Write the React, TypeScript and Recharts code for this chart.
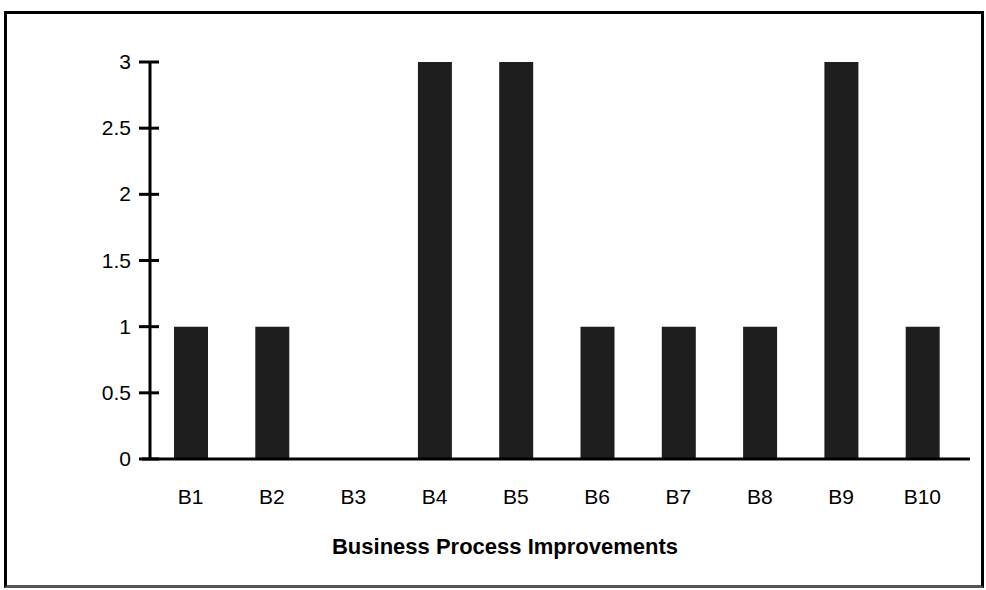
import { BarChart, Bar, XAxis, YAxis, ReferenceLine } from 'recharts'

const categories = ['B1', 'B2', 'B3', 'B4', 'B5', 'B6', 'B7', 'B8', 'B9', 'B10']
const counts = [1, 1, 0, 3, 3, 1, 1, 1, 3, 1]
const yTicks = [0, 0.5, 1, 1.5, 2, 2.5, 3]

const data = categories.map((name, i) => ({ name, value: counts[i] }))

const font = '"Liberation Sans", Arial, sans-serif'

function YTick({ y, payload }: any) {
  return (
    <g>
      <line x1={139} x2={159} y1={y} y2={y} stroke="#000" strokeWidth={3} />
      <text x={131} y={y} dy={7} textAnchor="end" fontSize={21} fontFamily={font} fill="#000">
        {payload.value}
      </text>
    </g>
  )
}

function Title() {
  return (
    <text x={505} y={554} textAnchor="middle" fontSize={22} fontWeight="bold" fontFamily={font} fill="#000">
      Business Process Improvements
    </text>
  )
}

export default function App() {
  return (
    <div style={{ position: 'fixed', left: 0, top: 0, width: 986, height: 590, background: '#fff' }}>
      <div
        style={{
          position: 'absolute',
          left: 4,
          top: 11,
          width: 974,
          height: 571,
          border: '3px solid #000',
          borderBottomColor: '#555',
        }}
      />
      <div style={{ position: 'absolute', left: 0, top: 0 }}>
        <BarChart
          width={986}
          height={590}
          data={data}
          margin={{ top: 62, right: 16, bottom: 0, left: 0 }}
          barCategoryGap={0}
        >
          <XAxis
            dataKey="name"
            padding={{ left: 8, right: 7 }}
            axisLine={{ stroke: '#000', strokeWidth: 3 }}
            tickLine={false}
            tickMargin={24}
            tick={{ fontSize: 21, fontFamily: font, fill: '#000' }}
            interval={0}
            height={131}
            label={<Title />}
          />
          <YAxis
            domain={[0, 3]}
            ticks={yTicks}
            axisLine={false}
            tickLine={false}
            width={142}
            tick={<YTick />}
          />
          <ReferenceLine x="B1" position="start" stroke="#000" strokeWidth={3} />
          <Bar dataKey="value" fill="#1e1e1e" barSize={34} isAnimationActive={false} />
        </BarChart>
      </div>
    </div>
  )
}
